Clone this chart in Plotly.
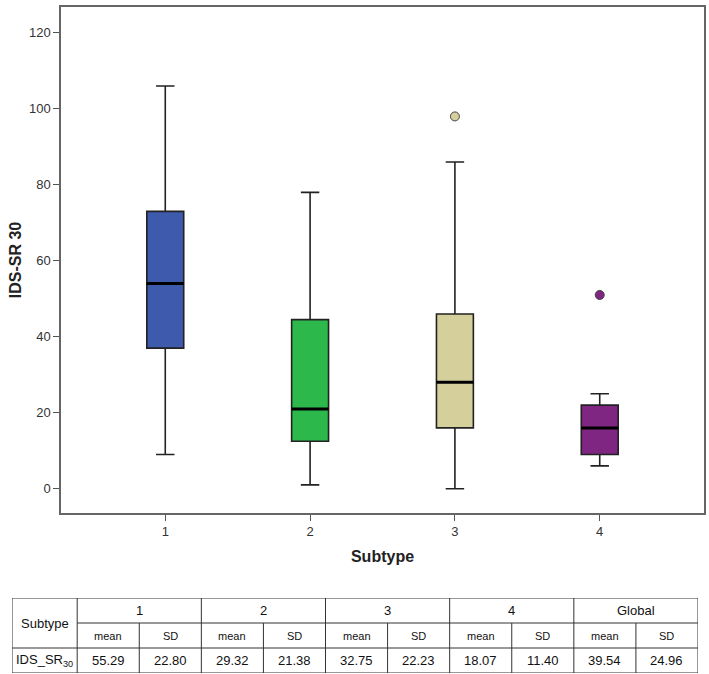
import plotly.graph_objects as go

# ---------------- data ----------------
subtypes = [1, 2, 3, 4]
q1 = [37, 12.5, 16, 9]
medians = [54, 21, 28, 16]
q3 = [73, 44.5, 46, 22]
lower_whisk = [9, 1, 0, 6]
upper_whisk = [106, 78, 86, 25]
outlier_x = [3, 4]
outlier_y = [98, 51]
box_colors = ["#3E5AAC", "#2DB84C", "#D4CF9B", "#7E2682"]

table_groups = ["1", "2", "3", "4", "Global"]
stat_labels = ["mean", "SD"]
means = [55.29, 29.32, 32.75, 18.07, 39.54]
sds = [22.80, 21.38, 22.23, 11.40, 24.96]
row_label = "IDS_SR<sub>30</sub>"
header_label = "Subtype"

FONT = "Liberation Sans, Arial, sans-serif"
BOX_W = 0.255

fig = go.Figure()

for i, s in enumerate(subtypes):
    fig.add_trace(go.Box(
        x=[s], q1=[q1[i]], median=[medians[i]], q3=[q3[i]],
        lowerfence=[lower_whisk[i]], upperfence=[upper_whisk[i]],
        width=BOX_W, whiskerwidth=0.5, boxpoints=False,
        fillcolor=box_colors[i], line=dict(color="#222222", width=1.6),
        xaxis="x", yaxis="y", showlegend=False, hoverinfo="skip",
    ))
    # thicker median line
    fig.add_trace(go.Scatter(
        x=[s - BOX_W / 2, s + BOX_W / 2], y=[medians[i], medians[i]],
        mode="lines", line=dict(color="#000000", width=3),
        xaxis="x", yaxis="y", showlegend=False, hoverinfo="skip",
    ))

fig.add_trace(go.Scatter(
    x=outlier_x, y=outlier_y, mode="markers",
    marker=dict(size=9, color=[box_colors[s - 1] for s in outlier_x],
                line=dict(color="#444444", width=1)),
    xaxis="x", yaxis="y", showlegend=False, hoverinfo="skip",
))

# ---------------- table (own axes) ----------------
sub_w = 1.05
col_edges = [0, sub_w] + [sub_w + k + 1 for k in range(10)]
n_cols_total = col_edges[-1]
grid = dict(color="#333333", width=1)
shapes = []
shapes.append(dict(type="rect", xref="x2", yref="y2", x0=0, x1=n_cols_total,
                   y0=0, y1=3, line=grid))
shapes.append(dict(type="line", xref="x2", yref="y2", x0=sub_w, x1=n_cols_total,
                   y0=1, y1=1, line=grid))
shapes.append(dict(type="line", xref="x2", yref="y2", x0=0, x1=n_cols_total,
                   y0=2, y1=2, line=grid))
for k, xe in enumerate(col_edges[1:-1]):
    if k == 0 or k % 2 == 0:
        shapes.append(dict(type="line", xref="x2", yref="y2", x0=xe, x1=xe,
                           y0=0, y1=3, line=grid))
    else:
        shapes.append(dict(type="line", xref="x2", yref="y2", x0=xe, x1=xe,
                           y0=1, y1=3, line=grid))

annotations = []
annotations.append(dict(x=sub_w / 2, y=1, xref="x2", yref="y2", text=header_label,
                        showarrow=False, font=dict(size=13, color="#111", family=FONT)))
annotations.append(dict(x=sub_w / 2, y=2.5, xref="x2", yref="y2", text=row_label,
                        showarrow=False, font=dict(size=13, color="#111", family=FONT)))
for g, name in enumerate(table_groups):
    x0 = sub_w + 2 * g
    annotations.append(dict(x=x0 + 1, y=0.5, xref="x2", yref="y2", text=name,
                            showarrow=False, font=dict(size=13, color="#111", family=FONT)))
    for j, lab in enumerate(stat_labels):
        annotations.append(dict(x=x0 + j + 0.5, y=1.5, xref="x2", yref="y2", text=lab,
                                showarrow=False, font=dict(size=11, color="#111", family=FONT)))
    vals = [means[g], sds[g]]
    for j, v in enumerate(vals):
        annotations.append(dict(x=x0 + j + 0.5, y=2.5, xref="x2", yref="y2",
                                text=f"{v:.2f}", showarrow=False,
                                font=dict(size=13, color="#111", family=FONT)))

W, H = 709, 674
ml, mr, mt, mb = 5, 5, 7, 1
pw = W - ml - mr
ph = H - mt - mb
plot_left, plot_right, plot_top, plot_bottom = 61, 704, 7, 513
tab_left, tab_right, tab_top, tab_bottom = 12, 698, 598, 673

fig.update_layout(
    width=W, height=H,
    margin=dict(l=ml, r=mr, t=mt, b=mb),
    paper_bgcolor="white", plot_bgcolor="white",
    font=dict(family=FONT, color="#333333"),
    showlegend=False,
    xaxis=dict(
        domain=[(plot_left - ml) / pw, (plot_right - ml) / pw],
        range=[0.28, 4.72], tickvals=subtypes, ticktext=[str(s) for s in subtypes],
        showgrid=False, zeroline=False, showline=True, mirror=True,
        linecolor="#666666", linewidth=1.5, ticks="outside", ticklen=6,
        tickcolor="#555555", tickfont=dict(size=13, color="#333333", family=FONT),
        title=dict(text="<b>Subtype</b>", font=dict(size=16, color="#222222", family=FONT),
                   standoff=12),
        anchor="y",
    ),
    yaxis=dict(
        domain=[(H - mb - plot_bottom) / ph, (H - mb - plot_top) / ph],
        range=[-6.4, 126.8], tickvals=[0, 20, 40, 60, 80, 100, 120],
        showgrid=False, zeroline=False, showline=True, mirror=True,
        linecolor="#666666", linewidth=1.5, ticks="outside", ticklen=6,
        tickcolor="#555555", tickfont=dict(size=13, color="#333333", family=FONT),
        title=dict(text="<b>IDS-SR 30</b>", font=dict(size=16, color="#222222", family=FONT),
                   standoff=3),
        anchor="x",
    ),
    xaxis2=dict(
        domain=[(tab_left - ml) / pw, (tab_right - ml) / pw],
        range=[0, n_cols_total], visible=False, anchor="y2",
    ),
    yaxis2=dict(
        domain=[(H - mb - tab_bottom) / ph, (H - mb - tab_top) / ph],
        range=[3, 0], visible=False, anchor="x2",
    ),
    shapes=shapes,
    annotations=annotations,
)

fig.write_html("out.html")
